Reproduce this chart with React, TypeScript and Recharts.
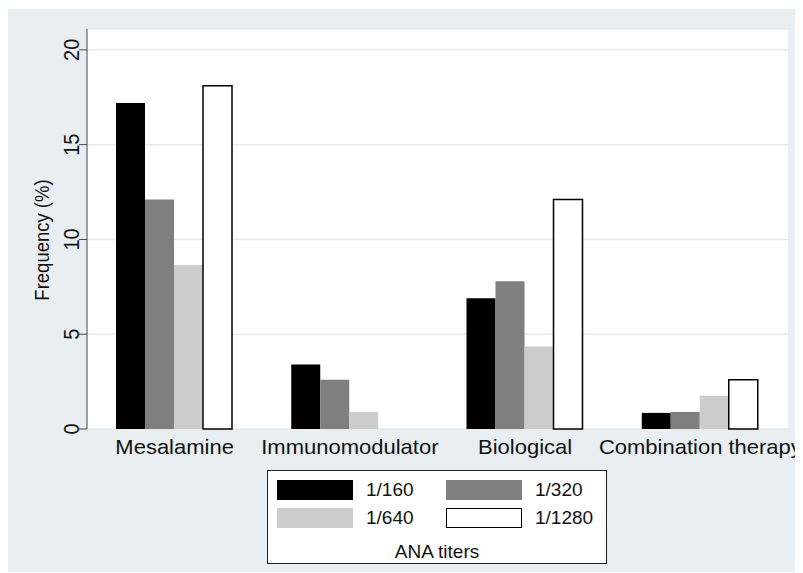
import { BarChart, Bar, XAxis, YAxis, CartesianGrid, Legend } from 'recharts';

const categories = ['Mesalamine', 'Immunomodulator', 'Biological', 'Combination therapy'];
const titer160 = [17.2, 3.4, 6.9, 0.85];
const titer320 = [12.1, 2.6, 7.8, 0.9];
const titer640 = [8.65, 0.9, 4.35, 1.75];
const titer1280 = [18.1, 0, 12.1, 2.6];
const yTicks = [0, 5, 10, 15, 20];

const series = [
  { key: 't160', name: '1/160', fill: '#000000', stroke: 'none' },
  { key: 't320', name: '1/320', fill: '#7f7f7f', stroke: 'none' },
  { key: 't640', name: '1/640', fill: '#cccccc', stroke: 'none' },
  { key: 't1280', name: '1/1280', fill: '#ffffff', stroke: '#000000' },
];

const data = categories.map((c, i) => ({
  category: c,
  t160: titer160[i],
  t320: titer320[i],
  t640: titer640[i],
  t1280: titer1280[i],
}));

const FONT = '"Liberation Sans", Arial, Helvetica, sans-serif';

const XTick = (props: any) => {
  const { x, y, payload } = props;
  return (
    <text
      transform={`translate(${x},${y + 25}) scale(1.1,1)`}
      textAnchor="middle"
      fontSize={20}
      fontFamily={FONT}
      fill="#111"
    >
      {payload.value}
    </text>
  );
};

const YTick = (props: any) => {
  const { x, y, payload } = props;
  return (
    <text
      transform={`translate(${x},${y}) scale(1.1,1) rotate(-90)`}
      textAnchor="middle"
      fontSize={20}
      fontFamily={FONT}
      fill="#111"
    >
      {payload.value}
    </text>
  );
};

const YLabel = (props: any) => {
  const { viewBox } = props;
  const cx = viewBox.x + 12;
  const cy = viewBox.y + viewBox.height / 2 + 11;
  return (
    <text
      transform={`translate(${cx},${cy}) scale(1.1,1) rotate(-90)`}
      textAnchor="middle"
      fontSize={18.5}
      fontFamily={FONT}
      fill="#111"
    >
      Frequency (%)
    </text>
  );
};

const LegendBox = () => {
  const cols = [9, 178];
  const rows = [9, 37];
  return (
    <div
      style={{
        position: 'relative',
        width: 340,
        height: 94,
        boxSizing: 'border-box',
        border: '1.5px solid #222',
        background: '#fff',
        fontFamily: FONT,
        fontSize: 19,
        color: '#111',
      }}
    >
      {series.map((s, i) => {
        const left = cols[i % 2];
        const top = rows[Math.floor(i / 2)];
        return (
          <div key={s.key}>
            <div
              style={{
                position: 'absolute',
                left,
                top,
                width: 76,
                height: 20,
                boxSizing: 'border-box',
                background: s.fill,
                border: s.stroke === 'none' ? 'none' : `1.5px solid ${s.stroke}`,
              }}
            />
            <div
              style={{
                position: 'absolute',
                left: left + 89,
                top: top - 2,
                lineHeight: '24px',
              }}
            >
              {s.name}
            </div>
          </div>
        );
      })}
      <div
        style={{
          position: 'absolute',
          left: 0,
          width: '100%',
          top: 69,
          textAlign: 'center',
          lineHeight: '24px',
        }}
      >
        ANA titers
      </div>
    </div>
  );
};

export default function App() {
  return (
    <div style={{ marginTop: 1, width: 795, height: 563, background: '#e8eef1' }}>
      <BarChart
        width={795}
        height={563}
        data={data}
        margin={{ top: 20, right: 15, bottom: 113, left: 29 }}
        barCategoryGap={29}
        barGap={0}
      >
        <CartesianGrid vertical={false} stroke="#e3eaee" strokeWidth={1.5} fill="#ffffff" />
        <XAxis
          dataKey="category"
          axisLine={false}
          tickLine={false}
          tickSize={0}
          tickMargin={0}
          height={30}
          interval={0}
          tick={<XTick />}
        />
        <YAxis
          domain={[0, 21.1]}
          ticks={yTicks}
          width={50}
          tickSize={8}
          tickMargin={0}
          axisLine={{ stroke: '#444' }}
          tickLine={{ stroke: '#444' }}
          tick={<YTick />}
          label={<YLabel />}
        />
        <Legend
          layout="vertical"
          align="center"
          verticalAlign="middle"
          content={<LegendBox />}
          wrapperStyle={{ left: 259, top: 461, width: 340, height: 94 }}
        />
        {series.map((s) => (
          <Bar
            key={s.key}
            dataKey={s.key}
            name={s.name}
            fill={s.fill}
            stroke={s.stroke}
            strokeWidth={s.stroke === 'none' ? 0 : 1.5}
            isAnimationActive={false}
          />
        ))}
      </BarChart>
    </div>
  );
}
